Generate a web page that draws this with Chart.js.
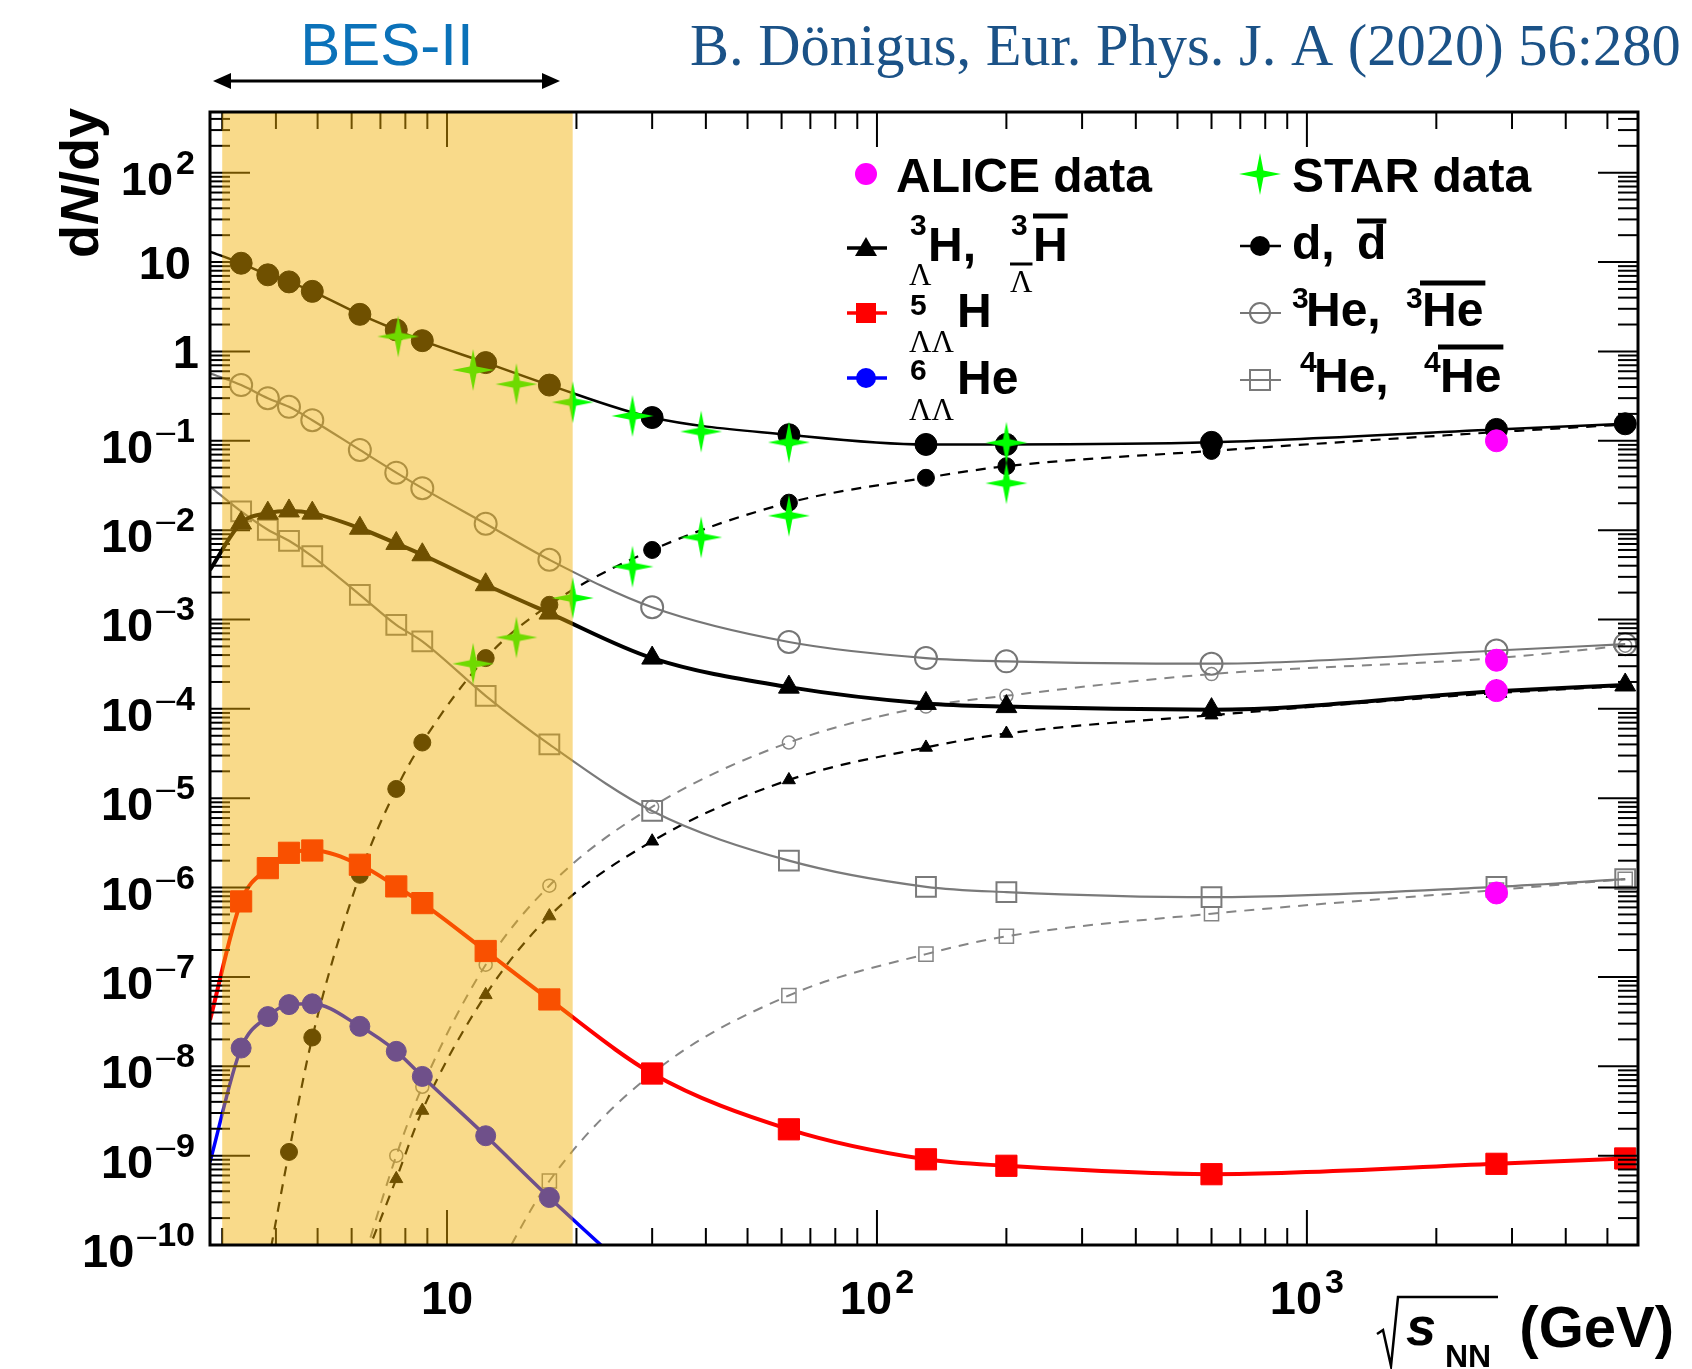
<!DOCTYPE html>
<html>
<head>
<meta charset="utf-8">
<script src="https://cdn.jsdelivr.net/npm/chart.js@4.4.0/dist/chart.umd.min.js"></script>
<style>
  html, body { margin: 0; padding: 0; background: #fff; }
  canvas { display: block; }
</style>
</head>
<body>
<canvas id="nucleiChart" width="1692" height="1369"></canvas>
<script>
// energies of the thermal model points (GeV), first one = left edge of the frame
const modelEnergy = [2.81, 3.32, 3.83, 4.29, 4.86, 6.27, 7.62, 8.76, 12.3, 17.3, 30, 62.4, 130, 200, 600, 2760, 5500];

// thermal model yields dN/dy (null = not drawn)
const deuteron     = [13.1, 9.7, 7.2, 6.0, 4.7, 2.6, 1.74, 1.32, 0.75, 0.42, 0.182, 0.117, 0.091, 0.091, 0.096, 0.134, 0.155];
const antiDeuteron = [null, null, 6e-11, 1.1e-9, 2.1e-8, 1.39e-6, 1.27e-5, 4.2e-5, 3.7e-4, 1.46e-3, 6.0e-3, 0.0203, 0.0385, 0.052, 0.077, 0.125, 0.152];
const helium3      = [0.57, 0.42, 0.30, 0.24, 0.17, 0.079, 0.044, 0.0295, 0.0118, 0.00466, 1.37e-3, 5.6e-4, 3.7e-4, 3.4e-4, 3.2e-4, 4.5e-4, 5.3e-4];
const antiHelium3  = [null, null, null, null, null, 5e-11, 1.0e-9, 5.9e-9, 1.37e-7, 1.05e-6, 8e-6, 4.2e-5, 1.06e-4, 1.4e-4, 2.45e-4, 3.7e-4, 5.1e-4];
const hypertriton  = [3.6e-3, 0.012, 0.0155, 0.0164, 0.0155, 0.0105, 0.0071, 0.0053, 0.00245, 0.00118, 3.7e-4, 1.75e-4, 1.15e-4, 1.06e-4, 9.8e-5, 1.57e-4, 1.85e-4];
const antiHypertriton = [null, null, null, null, null, 5e-11, 5.5e-10, 3.2e-9, 6.3e-8, 4.8e-7, 3.3e-6, 1.6e-5, 3.7e-5, 5.3e-5, 8.5e-5, 1.5e-4, 1.8e-4];
const helium4      = [0.0308, 0.0162, 0.0101, 0.0076, 0.0051, 0.00189, 8.7e-4, 5.7e-4, 1.4e-4, 4.0e-5, 7.2e-6, 2.0e-6, 1.02e-6, 8.9e-7, 7.8e-7, 1.02e-6, 1.24e-6];
const antiHelium4  = [null, null, null, null, null, null, null, null, 3e-11, 5.2e-10, 8.3e-9, 6.2e-8, 1.8e-7, 2.85e-7, 5.1e-7, 9.4e-7, 1.24e-6];
const llHydrogen5  = [3.3e-8, 7.0e-7, 1.65e-6, 2.45e-6, 2.6e-6, 1.8e-6, 1.03e-6, 6.7e-7, 1.95e-7, 5.6e-8, 8.3e-9, 1.97e-9, 9.1e-10, 7.7e-10, 6.2e-10, 8.1e-10, 9.3e-10];
const llHelium6    = [8.5e-10, 1.6e-8, 3.6e-8, 4.9e-8, 5.0e-8, 2.8e-8, 1.47e-8, 7.7e-9, 1.67e-9, 3.4e-10, 3e-11, null, null, null, null, null, null];

// STAR measurements
const starDEnergy = [7.7, 11.5, 14.5, 19.6, 27, 39, 62.4, 200];
const starD       = [1.47, 0.62, 0.43, 0.27, 0.19, 0.127, 0.096, 0.095];
const starDbarEnergy = [11.5, 14.5, 19.6, 27, 39, 62.4, 200];
const starDbar       = [3.2e-4, 6.3e-4, 1.74e-3, 3.9e-3, 8.3e-3, 0.0145, 0.0335];

// ALICE measurements at 2.76 TeV (d, 3He, hypertriton, 4He)
const aliceEnergy = [2760, 2760, 2760, 2760];
const alice       = [0.10, 3.5e-4, 1.6e-4, 8.7e-7];

// axes
const xRange = [2.81, 5890];
const yRange = [1e-10, 478];
const xLabelPowers = [1, 2, 3];
const yLabelPowers = [-10, -9, -8, -7, -6, -5, -4, -3, -2, -1, 0, 1, 2];
const besRange = [3.0, 19.6];

const SANS = '"Liberation Sans", Arial, Helvetica, sans-serif';
const SERIF = '"Liberation Serif", "Times New Roman", serif';

function points(xs, ys) {
  const out = [];
  ys.forEach((v, i) => { if (v !== null) out.push({x: xs[i], y: v}); });
  return out;
}

// no marker on the point that sits on the frame edge
function radii(xs, ys, r) {
  const out = [];
  ys.forEach((v, i) => { if (v !== null) out.push(xs[i] === xRange[0] ? 0 : r); });
  return out;
}

// four pointed STAR marker
function starMarker(size) {
  const c = document.createElement('canvas');
  c.width = size; c.height = size;
  const g = c.getContext('2d');
  const m = size / 2, R = size / 2 - 1, r = size * 0.11;
  g.fillStyle = '#00ff00';
  g.beginPath();
  for (let k = 0; k < 8; k++) {
    const a = k * Math.PI / 4 - Math.PI / 2;
    const d = k % 2 === 0 ? R : r;
    g.lineTo(m + d * Math.cos(a), m + d * Math.sin(a));
  }
  g.closePath();
  g.fill();
  return c;
}
const star = starMarker(44);

function model(data, color, width, style, r, opts) {
  return Object.assign({
    data: points(modelEnergy, data),
    borderColor: color,
    borderWidth: width,
    pointStyle: style,
    pointRadius: radii(modelEnergy, data, r),
    pointBackgroundColor: color,
    pointBorderColor: color,
    pointBorderWidth: 1,
    cubicInterpolationMode: 'monotone',
    clip: 0
  }, opts || {});
}

const dash = [10, 8];
const datasets = [
  { data: points(aliceEnergy, alice), showLine: false, pointRadius: 11, pointBackgroundColor: '#ff00ff', pointBorderColor: '#ff00ff', clip: 0 },
  { data: points(starDbarEnergy, starDbar), showLine: false, pointStyle: star, clip: 0 },
  { data: points(starDEnergy, starD), showLine: false, pointStyle: star, clip: 0 },
  model(llHelium6, '#0000ff', 3.5, 'circle', 10),
  model(llHydrogen5, '#ff0000', 4, 'rect', 15),
  model(deuteron, '#000000', 2.5, 'circle', 11),
  model(hypertriton, '#000000', 4, 'triangle', 12),
  model(helium3, '#767676', 2.2, 'circle', 11, { pointBackgroundColor: 'rgba(0,0,0,0)', pointBorderWidth: 2 }),
  model(helium4, '#7a7a7a', 2.2, 'rect', 14, { pointBackgroundColor: 'rgba(0,0,0,0)', pointBorderWidth: 2 }),
  model(antiDeuteron, '#000000', 2.2, 'circle', 8.5, { borderDash: dash }),
  model(antiHypertriton, '#000000', 2.2, 'triangle', 7.5, { borderDash: dash }),
  model(antiHelium3, '#858585', 2, 'circle', 6.5, { borderDash: dash, pointBackgroundColor: 'rgba(0,0,0,0)', pointBorderWidth: 1.5 }),
  model(antiHelium4, '#858585', 2, 'rect', 10, { borderDash: dash, pointBackgroundColor: 'rgba(0,0,0,0)', pointBorderWidth: 1.5 })
];

function hline(ctx, x0, y0, x1, y1) {
  ctx.beginPath(); ctx.moveTo(x0, y0); ctx.lineTo(x1, y1); ctx.stroke();
}

function put(ctx, s, x, y, font) {
  ctx.font = font;
  ctx.fillText(s, x, y);
  return x + ctx.measureText(s).width;
}

function bar(ctx, x0, x1, y, w) {
  ctx.fillRect(x0, y - w / 2, x1 - x0, w);
}

function width(ctx, s, font) {
  ctx.font = font;
  return ctx.measureText(s).width;
}

// "10" with an exponent, ROOT style; returns nothing, draws at x0
const BASE = `bold 47px ${SANS}`, EXP = `bold 34px ${SANS}`, MINUS = `34px ${SANS}`;
function powerWidth(ctx, p) {
  let w = width(ctx, '10', BASE) + 3 + width(ctx, String(Math.abs(p)), EXP);
  if (p < 0) w += width(ctx, '\u2013', MINUS) + 1;
  return w;
}
function drawPower(ctx, p, x0, baseline) {
  let xx = put(ctx, '10', x0, baseline, BASE) + 3;
  if (p < 0) xx = put(ctx, '\u2013', xx, baseline - 21, MINUS) + 1;
  put(ctx, String(Math.abs(p)), xx, baseline - 21, EXP);
}

// ROOT style frame, inward ticks and the BES-II band
const framePlugin = {
  id: 'frame',
  afterDatasetsDraw(chart) {
    const {ctx, chartArea: a, scales: {x, y}} = chart;
    ctx.save();
    ctx.strokeStyle = '#000';
    ctx.lineWidth = 2;
    for (let e = -10; e <= 2; e++) {
      for (let m = 1; m <= 9; m++) {
        const v = m * Math.pow(10, e);
        if (v > y.max) break;
        const py = y.getPixelForValue(v);
        const len = m === 1 ? 40 : 20;
        hline(ctx, a.left, py, a.left + len, py);
        hline(ctx, a.right, py, a.right - len, py);
      }
    }
    for (let e = 0; e <= 3; e++) {
      for (let m = 1; m <= 9; m++) {
        const v = m * Math.pow(10, e);
        if (v < x.min || v > x.max) continue;
        const px = x.getPixelForValue(v);
        const len = m === 1 ? 35 : 17;
        hline(ctx, px, a.bottom, px, a.bottom - len);
        hline(ctx, px, a.top, px, a.top + len);
      }
    }
    const b0 = x.getPixelForValue(besRange[0]);
    const b1 = x.getPixelForValue(besRange[1]);
    ctx.fillStyle = 'rgba(242,175,0,0.46)';
    ctx.fillRect(b0, a.top + 1, b1 - b0, a.bottom - a.top - 1);
    ctx.lineWidth = 3;
    ctx.strokeRect(a.left, a.top, a.right - a.left, a.bottom - a.top);
    ctx.restore();
  },
  afterDraw(chart) {
    const {ctx, scales: {x, y}} = chart;
    ctx.save();
    ctx.fillStyle = '#000';
    ctx.textBaseline = 'alphabetic';
    ctx.textAlign = 'left';

    // y labels
    yLabelPowers.forEach(p => {
      const py = y.getPixelForValue(Math.pow(10, p));
      if (p === 0) {
        put(ctx, '1', 199 - width(ctx, '1', BASE), py + 17, BASE);
      } else if (p === 1) {
        put(ctx, '10', 191 - width(ctx, '10', BASE), py + 17, BASE);
      } else {
        drawPower(ctx, p, 195 - powerWidth(ctx, p), py + 22);
      }
    });

    // x labels
    xLabelPowers.forEach(p => {
      const px = x.getPixelForValue(Math.pow(10, p));
      if (p === 1) {
        put(ctx, '10', px - width(ctx, '10', BASE) / 2, 1314, BASE);
      } else {
        drawPower(ctx, p, px - powerWidth(ctx, p) / 2, 1314);
      }
    });

    // x title
    ctx.lineWidth = 2.5;
    ctx.strokeStyle = '#000';
    ctx.beginPath();
    ctx.moveTo(1377, 1334); ctx.lineTo(1383, 1330); ctx.lineTo(1391, 1366);
    ctx.lineTo(1398, 1297); ctx.lineTo(1498, 1297);
    ctx.stroke();
    put(ctx, 's', 1406, 1345, `italic bold 54px ${SANS}`);
    put(ctx, 'NN', 1445, 1367, `bold 32px ${SANS}`);
    const gev = `bold 58px ${SANS}`;
    put(ctx, '(GeV)', 1674 - width(ctx, '(GeV)', gev), 1347, gev);

    // y title
    ctx.save();
    ctx.translate(98, 183);
    ctx.rotate(-Math.PI / 2);
    const fy = `bold 54px ${SANS}`, fyi = `italic bold 54px ${SANS}`;
    const wa = width(ctx, 'd', fy), wc = width(ctx, '/dy', fy), wb = width(ctx, 'N', fyi);
    let tx = -(wa + wb + wc) / 2;
    tx = put(ctx, 'd', tx, 0, fy);
    tx = put(ctx, 'N', tx, 0, fyi);
    put(ctx, '/dy', tx, 0, fy);
    ctx.restore();

    // legend
    const L = `bold 48px ${SANS}`, S = `bold 30px ${SANS}`, G = `31px ${SERIF}`;
    ctx.fillStyle = '#ff00ff';
    ctx.beginPath(); ctx.arc(866, 174, 11, 0, Math.PI * 2); ctx.fill();
    ctx.drawImage(star, 1260 - 22, 174 - 22);
    ctx.fillStyle = '#000';
    put(ctx, 'ALICE data', 896, 192, L);
    put(ctx, 'STAR data', 1292, 192, L);

    // hypertriton row
    ctx.lineWidth = 3.5; ctx.strokeStyle = '#000';
    hline(ctx, 847, 248, 887, 248);
    ctx.beginPath(); ctx.moveTo(866, 237); ctx.lineTo(877, 256); ctx.lineTo(855, 256); ctx.closePath(); ctx.fill();
    put(ctx, '3', 910, 235, S);
    put(ctx, 'Λ', 909, 285, G);
    put(ctx, 'H,', 928, 261, L);
    put(ctx, '3', 1011, 235, S);
    const wl = width(ctx, 'Λ', G);
    put(ctx, 'Λ', 1010, 292, G);
    bar(ctx, 1010, 1010 + wl, 264, 3);
    let e = put(ctx, 'H', 1033, 261, L);
    bar(ctx, 1033, e, 216, 5);

    // double lambda hydrogen row
    ctx.strokeStyle = '#ff0000'; ctx.fillStyle = '#ff0000';
    hline(ctx, 847, 313, 887, 313);
    ctx.fillRect(856, 303, 20, 20);
    ctx.fillStyle = '#000';
    put(ctx, '5', 910, 315, S);
    put(ctx, 'ΛΛ', 909, 352, G);
    put(ctx, 'H', 957, 327, L);

    // double lambda helium row
    ctx.strokeStyle = '#0000ff'; ctx.fillStyle = '#0000ff';
    hline(ctx, 847, 378, 887, 378);
    ctx.beginPath(); ctx.arc(866, 378, 10, 0, Math.PI * 2); ctx.fill();
    ctx.fillStyle = '#000';
    put(ctx, '6', 910, 380, S);
    put(ctx, 'ΛΛ', 909, 420, G);
    put(ctx, 'He', 957, 394, L);

    // deuteron row
    ctx.strokeStyle = '#000'; ctx.lineWidth = 2.5;
    hline(ctx, 1240, 246, 1281, 246);
    ctx.beginPath(); ctx.arc(1260, 246, 10, 0, Math.PI * 2); ctx.fill();
    put(ctx, 'd,', 1292, 259, L);
    e = put(ctx, 'd', 1357, 259, L);
    bar(ctx, 1357, e, 221, 5);

    // helium-3 row
    ctx.strokeStyle = '#767676'; ctx.lineWidth = 2;
    hline(ctx, 1240, 313, 1281, 313);
    ctx.beginPath(); ctx.arc(1260, 313, 10, 0, Math.PI * 2); ctx.fillStyle = '#fff'; ctx.fill(); ctx.stroke();
    hline(ctx, 1250, 313, 1270, 313);
    ctx.fillStyle = '#000';
    put(ctx, '3', 1292, 308, S);
    put(ctx, 'He,', 1306, 326, L);
    put(ctx, '3', 1406, 308, S);
    e = put(ctx, 'He', 1422, 326, L);
    bar(ctx, 1420, e + 2, 283, 5);

    // helium-4 row
    ctx.strokeStyle = '#7a7a7a';
    hline(ctx, 1240, 380, 1281, 380);
    ctx.fillStyle = '#fff'; ctx.fillRect(1250, 370, 20, 20); ctx.strokeRect(1250, 370, 20, 20);
    hline(ctx, 1250, 380, 1270, 380);
    ctx.fillStyle = '#000';
    put(ctx, '4', 1300, 372, S);
    put(ctx, 'He,', 1314, 392, L);
    put(ctx, '4', 1424, 372, S);
    e = put(ctx, 'He', 1440, 392, L);
    bar(ctx, 1438, e + 2, 347, 5);

    // BES-II marker above the band
    ctx.fillStyle = '#0b72b9';
    ctx.font = `60px ${SANS}`;
    ctx.textAlign = 'center';
    ctx.fillText('BES-II', 387, 65);
    ctx.textAlign = 'left';
    ctx.strokeStyle = '#000'; ctx.fillStyle = '#000'; ctx.lineWidth = 3;
    hline(ctx, 225, 81, 548, 81);
    ctx.beginPath(); ctx.moveTo(213, 81); ctx.lineTo(231, 73); ctx.lineTo(231, 89); ctx.closePath(); ctx.fill();
    ctx.beginPath(); ctx.moveTo(560, 81); ctx.lineTo(542, 73); ctx.lineTo(542, 89); ctx.closePath(); ctx.fill();

    // reference
    const cite = 'B. Dönigus, Eur. Phys. J. A (2020) 56:280';
    const size = Math.min(60, 54 * 991 / width(ctx, cite, `54px ${SERIF}`));
    ctx.fillStyle = '#1b5287';
    put(ctx, cite, 690, 65, `${size}px ${SERIF}`);
    ctx.restore();
  }
};

const ctx = document.getElementById('nucleiChart');

new Chart(ctx, {
  type: 'line',
  data: { datasets: datasets },
  options: {
    responsive: false,
    animation: false,
    devicePixelRatio: 1,
    layout: { padding: { left: 210, right: 54, top: 112, bottom: 124 } },
    scales: {
      x: { type: 'logarithmic', min: xRange[0], max: xRange[1], display: false },
      y: { type: 'logarithmic', min: yRange[0], max: yRange[1], display: false }
    },
    plugins: { legend: { display: false }, tooltip: { enabled: false } }
  },
  plugins: [framePlugin]
});
</script>
</body>
</html>
